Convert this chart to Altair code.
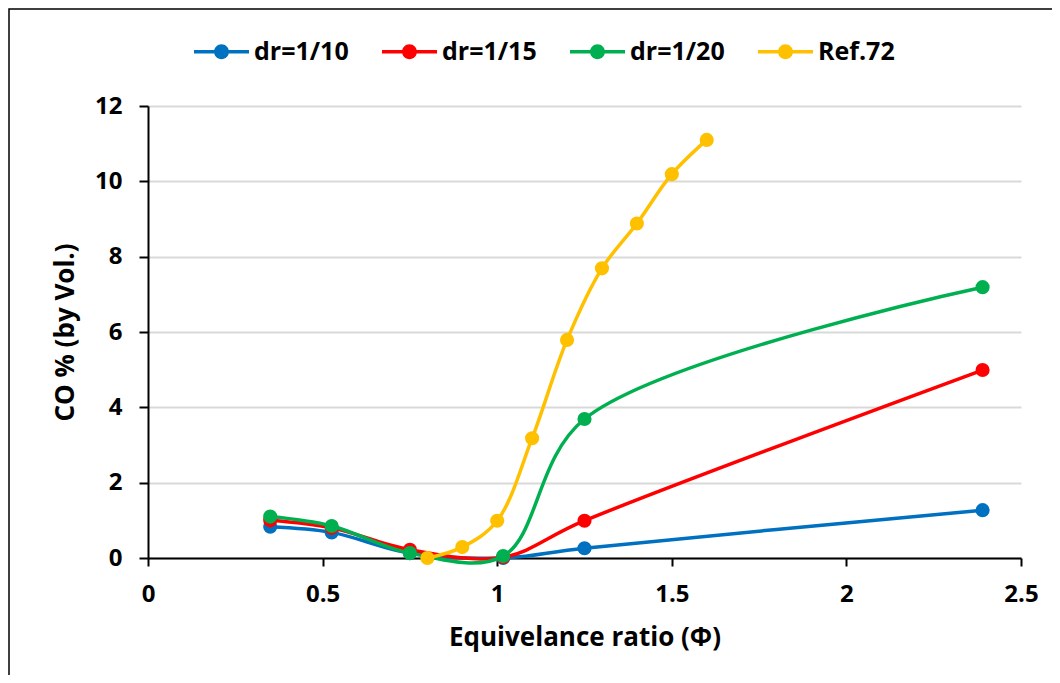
import altair as alt
import pandas as pd

series_names = ["dr=1/10", "dr=1/15", "dr=1/20", "Ref.72"]
colors = ["#0070C0", "#FF0000", "#00B050", "#FFC000"]

phi_dr = [0.35, 0.526, 0.75, 1.017, 1.25, 2.39]
co_dr10 = [0.83, 0.68, 0.13, 0.0, 0.26, 1.27]
co_dr15 = [1.0, 0.80, 0.22, 0.02, 0.99, 4.99]
co_dr20 = [1.1, 0.85, 0.13, 0.05, 3.69, 7.19]
phi_ref = [0.8, 0.9, 1.0, 1.1, 1.2, 1.3, 1.4, 1.5, 1.6]
co_ref = [0.0, 0.29, 0.99, 3.18, 5.79, 7.69, 8.88, 10.19, 11.1]

x_ticks = [0, 0.5, 1, 1.5, 2, 2.5]
y_ticks = [0, 2, 4, 6, 8, 10, 12]

rows = []
for s, ys in zip(series_names[:3], [co_dr10, co_dr15, co_dr20]):
    for x, y in zip(phi_dr, ys):
        rows.append({"series": s, "phi": x, "co": y})
for x, y in zip(phi_ref, co_ref):
    rows.append({"series": "Ref.72", "phi": x, "co": y})
df = pd.DataFrame(rows)

FONT = "Open Sans"

x_enc = alt.X(
    "phi:Q",
    scale=alt.Scale(domain=[0, 2.5], nice=False, zero=False),
    axis=alt.Axis(
        values=x_ticks, format="~g", grid=False, title="Equivelance ratio (Φ)",
        tickSize=8, labelPadding=16, titleY=79, titleBaseline="middle",
        labelFlush=False,
    ),
)
y_enc = alt.Y(
    "co:Q",
    scale=alt.Scale(domain=[0, 12], nice=False),
    axis=alt.Axis(
        values=y_ticks, grid=True, title="CO % (by Vol.)",
        tickSize=9, labelPadding=17, titleX=-83, titleBaseline="middle",
    ),
)

legend_symbol = (
    "M-1,-0.065L1,-0.065L1,0.065L-1,0.065Z "
    "M0.27,0A0.27,0.27 0 1,1 -0.27,0A0.27,0.27 0 1,1 0.27,0Z"
)

legend = alt.Legend(
    title=None, orient="none", legendX=46, legendY=-82,
    direction="horizontal", columns=4,
    symbolType=legend_symbol, symbolSize=3025,
    symbolStrokeWidth=0, symbolOpacity=1,
    labelFont=FONT, labelFontSize=25, labelFontWeight="bold",
    labelColor="black", labelOffset=5, columnPadding=33, padding=0,
)
color_enc = alt.Color(
    "series:N", scale=alt.Scale(domain=series_names, range=colors), legend=legend
)

frame_df = pd.DataFrame({"k": [0]})
frame = alt.Chart(frame_df).mark_rect(
    filled=False, stroke="black", strokeWidth=1.5
).encode(
    x=alt.value(-139), x2=alt.value(1000), y=alt.value(-97), y2=alt.value(700)
)

base = alt.Chart(df)
layers = [frame]
for i, s in enumerate(series_names):
    line = base.transform_filter(alt.datum.series == s).mark_line(
        interpolate="catmull-rom", strokeWidth=3.5
    ).encode(x=x_enc, y=y_enc, color=color_enc)
    pts = base.transform_filter(alt.datum.series == s).mark_circle(
        size=200, opacity=1
    ).encode(x=x_enc, y=y_enc, color=color_enc)
    layers += [line, pts]

chart = alt.layer(*layers).properties(
    width=873, height=452,
    autosize=alt.AutoSizeParams(type="none"),
    padding={"left": 140, "top": 98, "right": 31, "bottom": 117},
    background="white",
).configure_view(stroke=None).configure_axis(
    domainColor="black", domainWidth=2, tickColor="black", tickWidth=2,
    labelFont=FONT, labelFontSize=24, labelFontWeight="bold", labelColor="black",
    titleFont=FONT, titleFontSize=26, titleFontWeight="bold", titleColor="black",
    gridColor="#d9d9d9", gridWidth=2,
)

chart.save("out.html", embed_options={"renderer": "svg", "actions": False})
